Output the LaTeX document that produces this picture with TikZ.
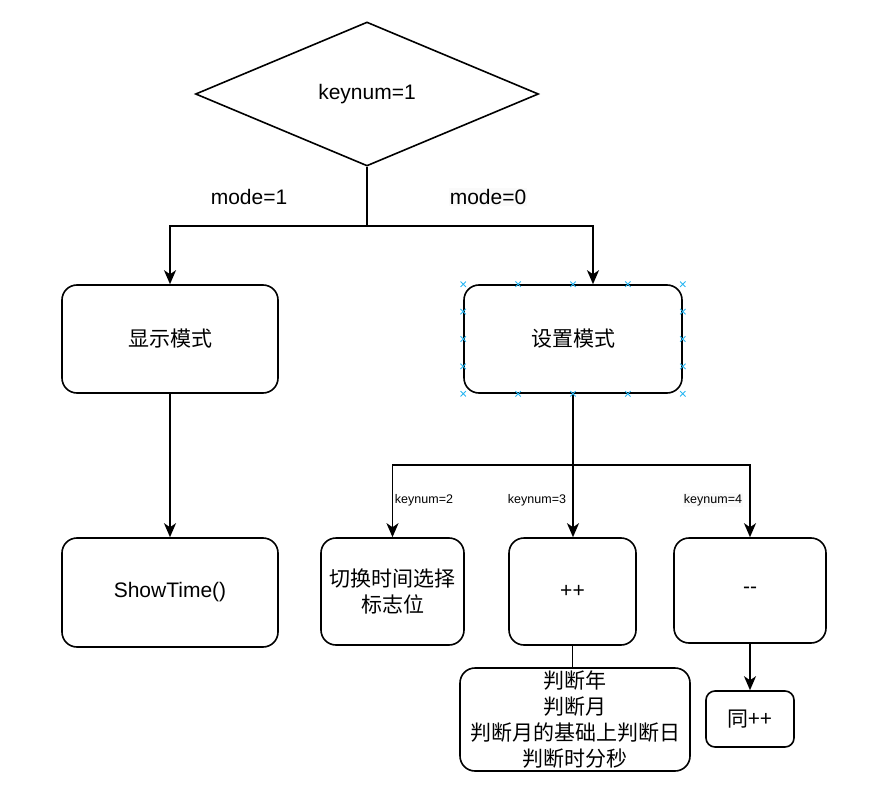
\documentclass[tikz,border=0pt]{standalone}
\usepackage{fontspec}
\setmainfont{Liberation Sans}
\newfontfamily\cjk{Noto Sans CJK SC}
\usepackage{tikz}
\usetikzlibrary{shapes.geometric, shapes.misc, arrows.meta, calc}
\definecolor{mydark}{RGB}{0,0,0}
\definecolor{selblue}{RGB}{41,182,242}
\definecolor{lblbg}{RGB}{250,250,250}
\tikzset{
  block/.style={rectangle, draw=mydark, fill=white, align=center,
    rounded corners=15pt, line width=1.6pt, inner sep=0pt,
    font=\fontsize{21}{26}\selectfont},
  decision/.style={diamond, draw=mydark, fill=white, line width=1.6pt,
    minimum width=343pt, minimum height=144pt, inner sep=0pt,
    font=\fontsize{21}{26}\selectfont},
  lbl/.style={inner sep=1pt, font=\fontsize{21}{26}\selectfont},
  smalllbl/.style={inner sep=1pt, font=\fontsize{12.5}{15}\selectfont},
  arrow/.style={-{Stealth[length=14pt, width=12pt, inset=4pt]}, line width=1.6pt, color=mydark},
  line/.style={line width=1.6pt, color=mydark},
  handle/.style={cross out, draw=selblue, minimum size=4.5pt, inner sep=0pt, line width=0.9pt}
}

\begin{document}
\begin{tikzpicture}[x=1pt, y=-1pt]
  \useasboundingbox (0,0) rectangle (892,789);

  % top decision
  \node [decision] (key) at (367,94) {keynum=1};

  % mode blocks
  \node [block, minimum width=216pt, minimum height=108pt] (disp) at (170,339) {\cjk 显示模式};
  \node [block, minimum width=218pt, minimum height=108pt] (set) at (573,339) {\cjk 设置模式};
  \node [block, minimum width=216pt, minimum height=109pt] (show) at (170,592.5) {\raisebox{-3pt}{ShowTime()}};

  % keynum branches
  \node [block, minimum width=143pt, minimum height=107pt] (sel) at (392.5,591.5) {\cjk 切换时间选择\\\cjk 标志位};
  \node [block, minimum width=127pt, minimum height=107pt] (plus) at (572.5,591.5) {++};
  \node [block, minimum width=152pt, minimum height=105pt] (minus) at (750,590.5) {{-}{-}};
  \node [block, minimum width=230pt, minimum height=103pt] (judge) at (575,719.5)
    {\cjk 判断年\\\cjk 判断月\\\cjk 判断月的基础上判断日\\\cjk 判断时分秒};
  \node [block, rounded corners=9pt, minimum width=88pt, minimum height=56pt] (same) at (750,719) {\cjk 同++};

  % labels
  \node [lbl] (m1) at (249,197) {mode=1};
  \node [lbl, fill=lblbg] (m0) at (488,197) {mode=0};
  \node [smalllbl] (k2) at (424,500) {keynum=2};
  \node [smalllbl] (k3) at (537,500) {keynum=3};
  \node [smalllbl, fill=lblbg] (k4) at (713,500) {keynum=4};

  % connectors
  \coordinate (modesplit) at (367,226);
  \draw [line] (key.south) -- (modesplit);
  \draw [arrow] (modesplit) -| (disp.north);
  \draw [arrow] (modesplit) -| ([xshift=20pt]set.north);
  \draw [arrow] (disp.south) -- (show.north);

  \coordinate (keysplit) at (573,465);
  \draw [line] (set.south) -- (keysplit);
  \draw [arrow] (keysplit) -| (sel.north);
  \draw [arrow] (keysplit) -- (keysplit |- plus.north);
  \draw [arrow] (keysplit) -| (minus.north);
  \draw [line] (plus.south) -- (plus.south |- judge.north);
  \draw [arrow] (minus.south) -- (same.north);

  % selection handles
  \foreach \f in {0,0.25,0.5,0.75,1} {
    \node [handle] at ($(set.north west)!\f!(set.north east)$) {};
    \node [handle] at ($(set.south west)!\f!(set.south east)$) {};
  }
  \foreach \f in {0.25,0.5,0.75} {
    \node [handle] at ($(set.north west)!\f!(set.south west)$) {};
    \node [handle] at ($(set.north east)!\f!(set.south east)$) {};
  }
\end{tikzpicture}
\end{document}
